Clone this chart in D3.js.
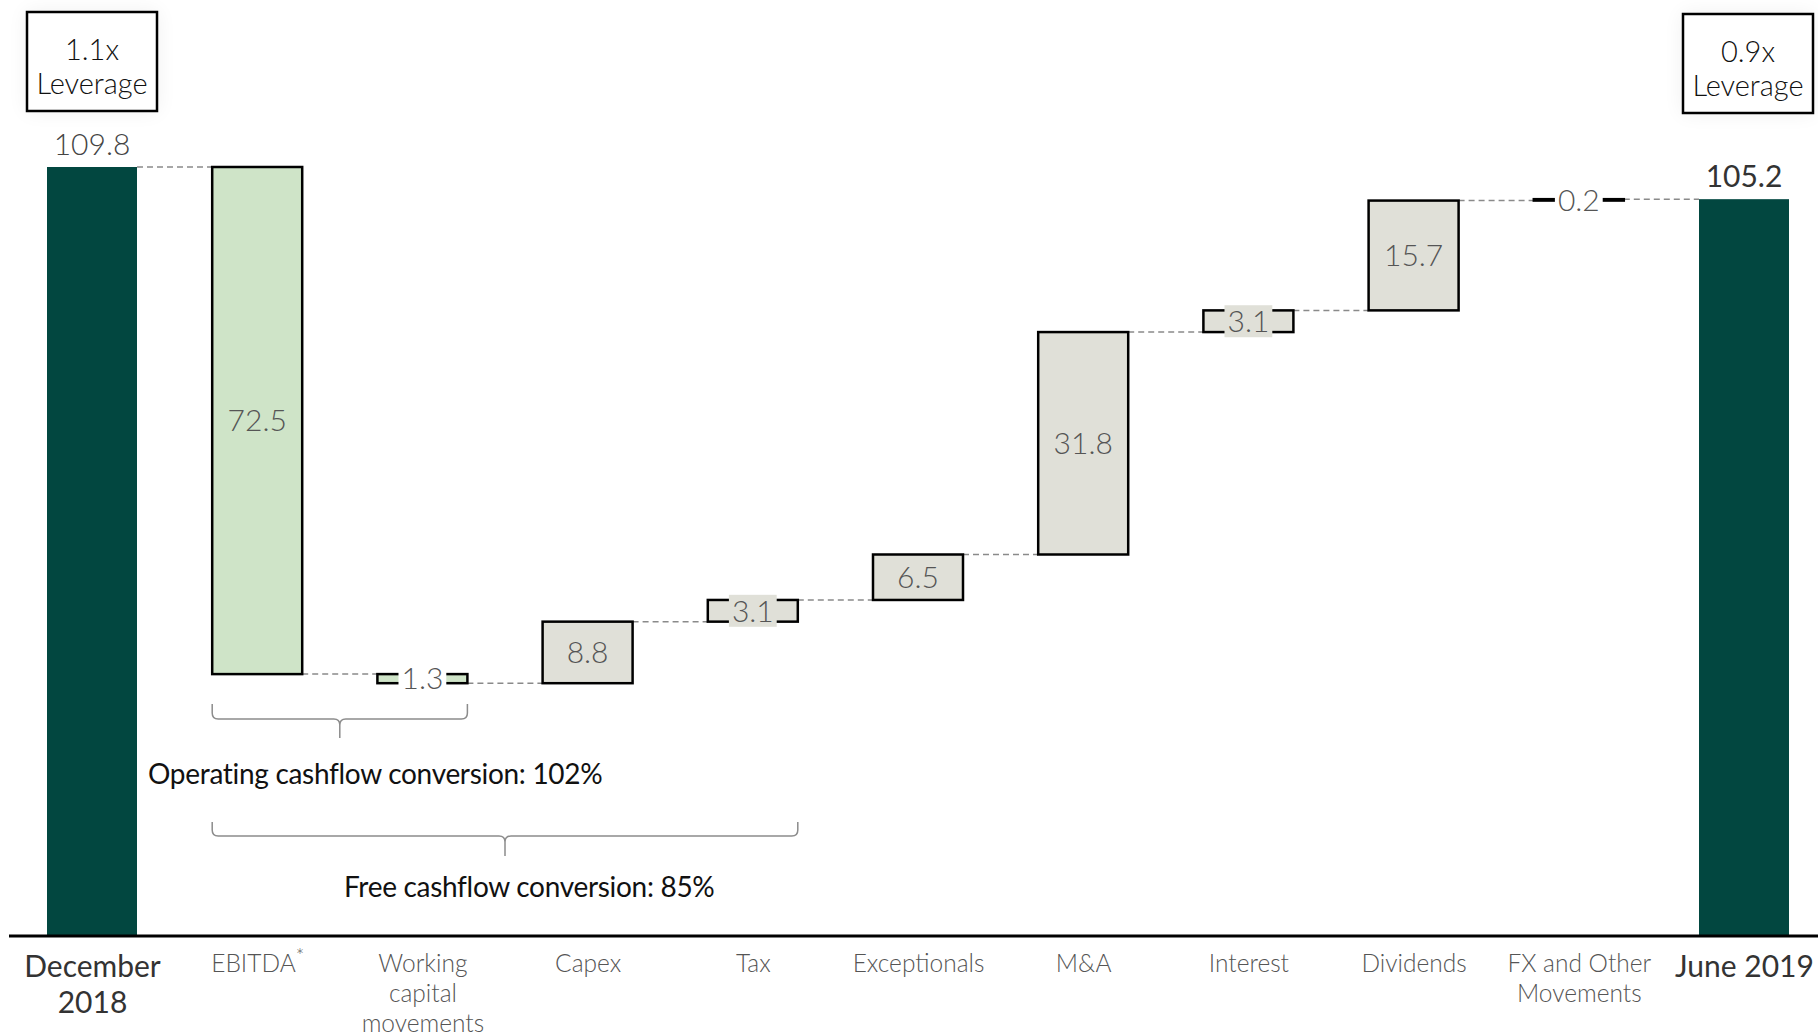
<!DOCTYPE html>
<html>
<head>
<meta charset="utf-8">
<script src="https://cdn.jsdelivr.net/npm/d3@7"></script>
<style>
  html, body { margin: 0; padding: 0; background: #fff; }
  svg { display: block; font-family: Lato, "Open Sans", sans-serif; }
</style>
</head>
<body>
<svg id="chart" width="1818" height="1035"></svg>
<script>
// ---- data ----
const categories = ["December 2018", "EBITDA", "Working capital movements", "Capex", "Tax",
  "Exceptionals", "M&A", "Interest", "Dividends", "FX and Other Movements", "June 2019"];
const tickLabels = [["December", "2018"], ["EBITDA"], ["Working", "capital", "movements"], ["Capex"], ["Tax"],
  ["Exceptionals"], ["M&A"], ["Interest"], ["Dividends"], ["FX and Other", "Movements"], ["June 2019"]];
const values = [109.8, -72.5, -1.3, 8.8, 3.1, 6.5, 31.8, 3.1, 15.7, 0.2, 105.2];
const kinds = ["total", "delta", "delta", "delta", "delta", "delta", "delta", "delta", "delta", "delta", "total"];
const leverageLabels = ["1.1x", "0.9x"];
const brackets = [
  { from: "EBITDA", to: "Working capital movements", text: "Operating cashflow conversion: 102%" },
  { from: "EBITDA", to: "Tax", text: "Free cashflow conversion: 85%" }
];

// ---- build waterfall ----
let running = 0;
const bars = categories.map((c, i) => {
  let y0, y1;
  if (kinds[i] === "total") { y0 = 0; y1 = values[i]; running = values[i]; }
  else { y0 = running; y1 = running + values[i]; running = y1; }
  return { cat: c, i, kind: kinds[i], value: values[i], lo: Math.min(y0, y1), hi: Math.max(y0, y1), end: y1 };
});

const svg = d3.select("#chart");
const W = 1818, H = 1035;
const x = d3.scalePoint().domain(categories).range([92, 1744]);
const barW = 90;
const y = d3.scaleLinear().domain([0, 109.8]).range([935, 167]);

const dark = "#024740", green = "#cfe4c8", gray = "#e0e0d8";
const FONT = "Lato, 'Open Sans', sans-serif";

// shadow filter
const defs = svg.append("defs");
const f = defs.append("filter").attr("id", "glow").attr("x", "-50%").attr("y", "-50%").attr("width", "200%").attr("height", "200%");
f.append("feGaussianBlur").attr("in", "SourceAlpha").attr("stdDeviation", 10).attr("result", "b");
f.append("feComponentTransfer").attr("in", "b").attr("result", "c")
  .append("feFuncA").attr("type", "linear").attr("slope", 0.06);
const m = f.append("feMerge");
m.append("feMergeNode").attr("in", "c");
m.append("feMergeNode").attr("in", "SourceGraphic");

// connectors
const conn = svg.append("g");
for (let i = 0; i < bars.length - 1; i++) {
  const lvl = bars[i].end;
  conn.append("line")
    .attr("x1", x(bars[i].cat) + barW / 2).attr("x2", x(bars[i + 1].cat) - barW / 2)
    .attr("y1", y(lvl)).attr("y2", y(lvl))
    .attr("stroke", "#8a8a8a").attr("stroke-width", 1.5).attr("stroke-dasharray", "6,4");
}

// bars
const g = svg.append("g");
bars.forEach(b => {
  const fill = b.kind === "total" ? dark : (b.value < 0 ? green : gray);
  g.append("rect")
    .attr("x", x(b.cat) - barW / 2).attr("width", barW)
    .attr("y", y(b.hi)).attr("height", Math.max(0, y(b.lo) - y(b.hi)))
    .attr("fill", fill)
    .attr("stroke", b.kind === "total" ? "none" : "#000")
    .attr("stroke-width", b.kind === "total" ? 0 : 2.5);
});

// value labels
const lab = svg.append("g");
bars.forEach(b => {
  const txt = Math.abs(b.value).toFixed(1);
  if (b.kind === "total") {
    lab.append("text").attr("x", x(b.cat)).attr("y", y(b.hi) - 12)
      .attr("text-anchor", "middle").attr("font-size", 30)
      .attr("font-weight", b.i === 0 ? 300 : 400)
      .attr("fill", b.i === 0 ? "#444" : "#333").text(txt);
    return;
  }
  const hpx = y(b.lo) - y(b.hi);
  const cy = (y(b.lo) + y(b.hi)) / 2;
  const fill = b.value < 0 ? green : gray;
  if (hpx < 34) {
    const t = lab.append("text").attr("x", x(b.cat)).attr("y", cy).attr("dy", "0.36em")
      .attr("text-anchor", "middle").attr("font-size", 30).attr("font-weight", 300)
      .attr("fill", "#555").text(txt);
    const bb = t.node().getBBox();
    lab.insert("rect", () => t.node())
      .attr("x", bb.x - 3).attr("width", bb.width + 6)
      .attr("y", cy - 16).attr("height", 32)
      .attr("fill", hpx > 15 ? fill : "#fff");
  } else {
    lab.append("text").attr("x", x(b.cat)).attr("y", cy).attr("dy", "0.36em")
      .attr("text-anchor", "middle").attr("font-size", 30).attr("font-weight", 300)
      .attr("fill", "#555").text(txt);
  }
});

// axis
const axisG = svg.append("g").attr("transform", "translate(0,936)")
  .call(d3.axisBottom(x).tickSize(0).tickFormat(""))
  .attr("font-family", FONT).attr("font-size", null);
axisG.select(".domain").remove();
axisG.selectAll(".tick text").remove();
axisG.selectAll(".tick").each(function (d, i) {
  const isTotal = kinds[i] === "total";
  const t = d3.select(this).append("text")
    .attr("text-anchor", "middle")
    .attr("font-family", FONT)
    .attr("font-size", isTotal ? 30 : 24.5)
    .attr("font-weight", isTotal ? 400 : 300)
    .attr("fill", isTotal ? "#333" : "#555");
  const lines = tickLabels[i];
  const lh = isTotal ? 36 : 30;
  lines.forEach((ln, k) => {
    t.append("tspan").attr("x", 0).attr("y", (isTotal ? 41 : 36) + k * lh).text(ln);
  });
  if (d === "EBITDA") {
    t.append("tspan").attr("font-size", 20).attr("dy", -9).text("*");
  }
});
svg.append("line").attr("x1", 9).attr("x2", W).attr("y1", 936).attr("y2", 936)
  .attr("stroke", "#000").attr("stroke-width", 3);

// leverage boxes
[[leverageLabels[0], 27, 12], [leverageLabels[1], 1683, 14]].forEach(([lbl, bx, by]) => {
  const gg = svg.append("g");
  gg.append("rect").attr("x", bx).attr("y", by).attr("width", 130).attr("height", 99)
    .attr("fill", "#fff").attr("stroke", "#000").attr("stroke-width", 2.5).attr("filter", "url(#glow)");
  const cx = bx + 65;
  gg.append("text").attr("x", cx).attr("y", by + 48).attr("text-anchor", "middle")
    .attr("font-size", 29).attr("font-weight", 300).attr("fill", "#111").text(lbl);
  gg.append("text").attr("x", cx).attr("y", by + 82).attr("text-anchor", "middle")
    .attr("font-size", 29).attr("font-weight", 300).attr("fill", "#111").text("Leverage");
});

// brackets
const bracketDims = [
  { top: 704, yy: 719, bot: 738, tx: 148, ty: 784 },
  { top: 822, yy: 836, bot: 856, tx: 344, ty: 897 }
];
brackets.forEach((br, k) => {
  const dm = bracketDims[k];
  const x0 = x(br.from) - barW / 2, x1 = x(br.to) + barW / 2;
  const cx = (x0 + x1) / 2, r = 6;
  const p = d3.path();
  p.moveTo(x0, dm.top);
  p.lineTo(x0, dm.yy - r);
  p.quadraticCurveTo(x0, dm.yy, x0 + r, dm.yy);
  p.lineTo(cx - r, dm.yy);
  p.quadraticCurveTo(cx, dm.yy, cx, dm.yy + r);
  p.lineTo(cx, dm.bot);
  p.moveTo(cx, dm.yy + r);
  p.quadraticCurveTo(cx, dm.yy, cx + r, dm.yy);
  p.lineTo(x1 - r, dm.yy);
  p.quadraticCurveTo(x1, dm.yy, x1, dm.yy - r);
  p.lineTo(x1, dm.top);
  svg.append("path").attr("d", p.toString()).attr("fill", "none")
    .attr("stroke", "#8c8c8c").attr("stroke-width", 1.5);
  svg.append("text").attr("x", dm.tx).attr("y", dm.ty).attr("font-size", 28)
    .attr("font-weight", 400).attr("fill", "#111").attr("letter-spacing", -0.3).text(br.text);
});
</script>
</body>
</html>
